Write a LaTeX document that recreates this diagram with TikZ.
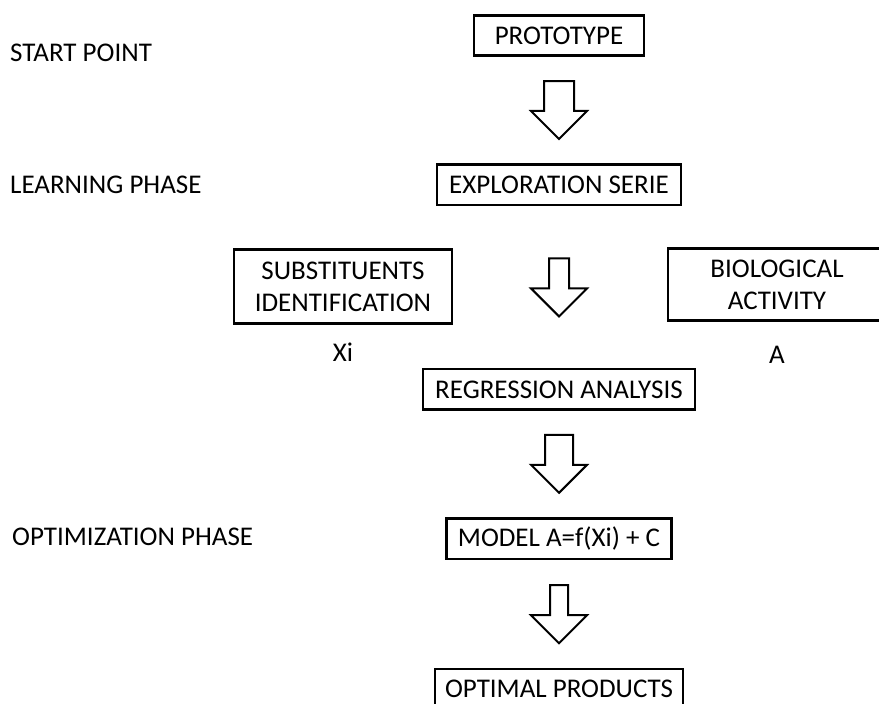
\documentclass[tikz,border=0pt]{standalone}
\usepackage{fontspec}
\setmainfont{Carlito}
\usetikzlibrary{shapes.arrows}
\usetikzlibrary{positioning}
\tikzstyle{phase_box} = [
    draw=black,
    line width=2.6pt,
    align=center,
    inner sep=0pt,
    minimum height=40.4pt,
    text centered
]
\tikzstyle{big_arrow} = [
    single arrow,
    draw=black,
    fill=white,
    line width=2pt,
    inner xsep=0pt,
    rotate=-90,
    minimum height=58pt, % tail to tip
    single arrow tip angle=90
]
\tikzstyle{phase_label} = [
    anchor=west,
    inner sep=0pt
]
\tikzstyle{var_label} = [
    inner sep=0pt
]

\begin{document}
\begin{tikzpicture}[
    x=1pt, y=-1pt,
    font=\fontsize{27}{32}\selectfont
]
\useasboundingbox (0,0) rectangle (879,704);

% phase names on the left
\node [phase_label] (start) at (10,53) {START POINT};
\node [phase_label] (learn) at (10,185) {LEARNING PHASE};
\node [phase_label] (optim) at (12,537) {OPTIMIZATION PHASE};

% main column (inner ysep = half the shaft)
\node [phase_box, minimum width=170pt] (proto) at (559,35.5) {PROTOTYPE};
\node [big_arrow, inner ysep=14pt, single arrow head extend=13pt, below=23pt of proto, anchor=tail] (arr1) {};
\node [phase_box, minimum width=244pt, below=23pt of arr1.tip] (explore) {EXPLORATION SERIE};
\node [big_arrow, inner ysep=9pt, single arrow head extend=18pt, below=51pt of explore, anchor=tail] (arr2) {};
\node [phase_box, minimum width=272pt, below=50pt of arr2.tip] (regress) {REGRESSION ANALYSIS};
\node [big_arrow, inner ysep=13pt, single arrow head extend=14pt, below=23pt of regress, anchor=tail] (arr3) {};
\node [phase_box, minimum width=225pt, below=23pt of arr3.tip] (model) {MODEL A=f(Xi) + C};
\node [big_arrow, inner ysep=8pt, single arrow head extend=19pt, below=24pt of model, anchor=tail] (arr4) {};
\node [phase_box, minimum width=248pt, below=23pt of arr4.tip] (optimal) {OPTIMAL PRODUCTS};

% side boxes
\node [phase_box, minimum width=218pt, minimum height=74.4pt] (subst) at (343,286.5) {SUBSTITUENTS\\IDENTIFICATION};
\node [phase_box, minimum width=218pt, minimum height=72.4pt] (bio) at (777,284.5) {BIOLOGICAL\\ACTIVITY};
\node [var_label, below=18pt of subst] (xi) {Xi};
\node [var_label, below=24pt of bio] (act) {A};
\end{tikzpicture}
\end{document}
